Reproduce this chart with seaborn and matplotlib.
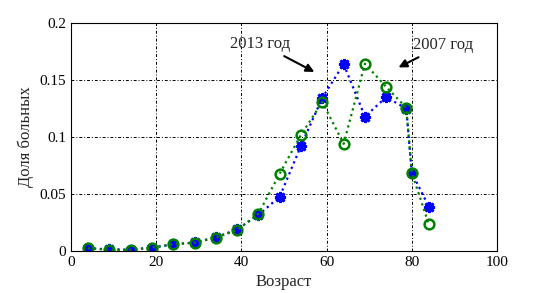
import pandas as pd
import seaborn as sns
import matplotlib
matplotlib.use("Agg")
import matplotlib.pyplot as plt

# ages (group midpoints) and share of patients
age = [4, 9, 14, 19, 24, 29, 34, 39, 44, 49, 54, 59, 64, 69, 74, 78.7, 80, 84]
share_2007 = [0.0024, 0.001, 0.001, 0.003, 0.006, 0.0073, 0.0117, 0.0184, 0.0327, 0.068,
              0.102, 0.1307, 0.094, 0.1643, 0.144, 0.1257, 0.0687, 0.0234]
share_2013 = [0.0024, 0.0015, 0.0012, 0.003, 0.0058, 0.0075, 0.012, 0.019, 0.0316, 0.0477,
              0.0924, 0.1345, 0.164, 0.118, 0.135, 0.125, 0.0687, 0.0389]

df = pd.DataFrame({"age": age, "y2007": share_2007, "y2013": share_2013})

sns.set_style("white")
plt.rcParams["font.family"] = ["Liberation Serif", "DejaVu Serif"]

fig = plt.figure(figsize=(5.49, 2.93), dpi=100)
ax = fig.add_axes([0.1293, 0.1433, 0.776, 0.778])

# matlab-like asterisk: 8-spoke marker
sns.lineplot(data=df, x="age", y="y2013", ax=ax, color="blue", linestyle=":", linewidth=1.6,
             marker=(8, 2, 0), markersize=8, markeredgecolor="blue", markeredgewidth=2)
sns.lineplot(data=df, x="age", y="y2007", ax=ax, color="green", linestyle=":", linewidth=1.6,
             marker="o", markersize=7, markerfacecolor="none", markeredgecolor="green",
             markeredgewidth=1.8)

ax.set_xlim(0, 100)
ax.set_ylim(0, 0.2)
ax.set_xticks([0, 20, 40, 60, 80, 100])
ax.set_yticks([0, 0.05, 0.1, 0.15, 0.2])
ax.set_yticklabels(["0", "0.05", "0.1", "0.15", "0.2"])
ax.grid(True, color="black", linestyle=(0, (3, 2, 1, 2)), linewidth=0.7)
ax.tick_params(direction="in", labelsize=11, length=3, colors="black")
for s in ax.spines.values():
    s.set_color("black")
    s.set_linewidth(0.8)

ax.set_xlabel("Возраст", fontsize=12)
ax.set_ylabel("Доля больных", fontsize=12)

ax.annotate("2013 год", xy=(57.7, 0.156), xytext=(51.5, 0.182), fontsize=12,
            ha="right", va="center",
            arrowprops=dict(arrowstyle="-|>", color="black", lw=1.5, mutation_scale=12))
ax.annotate("2007 год", xy=(76.3, 0.16), xytext=(80.3, 0.181), fontsize=12,
            ha="left", va="center",
            arrowprops=dict(arrowstyle="-|>", color="black", lw=1.5, mutation_scale=12))

fig.savefig("out.png", dpi=100)
